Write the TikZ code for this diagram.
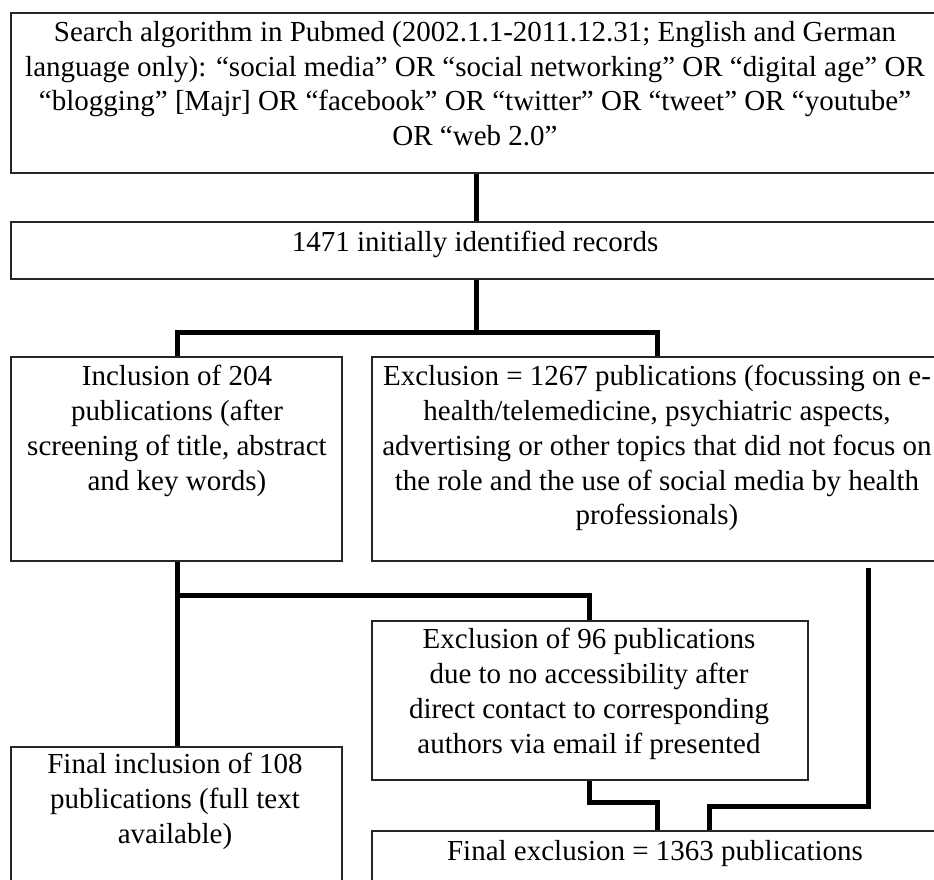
\documentclass[tikz,border=0pt]{standalone}
\usepackage{fontspec}
\setmainfont{Liberation Serif}
\begin{document}
\begin{tikzpicture}[x=1pt,y=-1pt,
  box/.style={draw=black!85, line width=1.6pt, rectangle, inner sep=0pt},
  txt/.style={anchor=north, align=center, inner sep=0pt, font=\fontsize{29}{34.8}\selectfont},
  conn/.style={line width=5pt, line join=miter, line cap=butt}]
\useasboundingbox (0,0) rectangle (934,880);
\clip (0,0) rectangle (934,880);
\fill[white] (0,0) rectangle (934,880);
% boxes
\node[box, minimum width=934pt, minimum height=160pt] (b1) at (478,93) {};
\node[box, minimum width=934pt, minimum height=57pt] (b2) at (478,250.5) {};
\node[box, minimum width=331pt, minimum height=204pt] (b3) at (176.5,459) {};
\node[box, minimum width=573pt, minimum height=204pt] (b4) at (658.5,459) {};
\node[box, minimum width=436pt, minimum height=159pt] (b5) at (590,700.5) {};
\node[box, minimum width=331pt, minimum height=153pt] (b6) at (176.5,823.5) {};
\node[box, minimum width=573pt, minimum height=69pt] (b7) at (658.5,865.5) {};
% texts
\node[txt] (t1) at (475,21) {Search algorithm in Pubmed (2002.1.1-2011.12.31; English and German\\
language only): “social media” OR “social networking” OR “digital age” OR\\
“blogging” [Majr] OR “facebook” OR “twitter” OR “tweet” OR “youtube”\\
OR “web 2.0”};
\node[txt] (t2) at (475,231) {1471 initially identified records};
\node[txt] (t3) at (177,365) {Inclusion of 204\\ publications (after\\ screening of title, abstract\\ and key words)};
\node[txt] (t4) at (657,365) {Exclusion = 1267 publications (focussing on e-\\ health/telemedicine, psychiatric aspects,\\ advertising or other topics that did not focus on\\ the role and the use of social media by health\\ professionals)};
\node[txt] (t5) at (589,628) {Exclusion of 96 publications\\ due to no accessibility after\\ direct contact to corresponding\\ authors via email if presented};
\node[txt] (t6) at (175,753) {Final inclusion of 108\\ publications (full text\\ available)};
\node[txt] (t7) at (655,840) {Final exclusion = 1363 publications};
% column coordinates
\coordinate (xl) at (177,0);
\coordinate (xm) at (476,0);
\coordinate (xr) at (657,0);
\coordinate (x5) at (589,0);
\coordinate (x7a) at (657,0);
\coordinate (x7b) at (709,0);
\coordinate (bar1) at (476,332);
\coordinate (bar2) at (177,595);
\coordinate (bar3) at (589,802);
\coordinate (bar4) at (868,806);
\coordinate (rtop) at (868,568);
% connectors
\draw[conn] (b1.south -| xm) -- (b2.north -| xm);
\draw[conn] (b2.south -| xm) -- (bar1);
\draw[conn] (b3.north -| xl) -- (xl |- bar1) -- (xr |- bar1) -- (b4.north -| xr);
\draw[conn] (b3.south -| xl) -- (b6.north -| xl);
\draw[conn] (bar2) -- (x5 |- bar2) -- (b5.north -| x5);
\draw[conn] (b5.south -| x5) -- (bar3) -- (x7a |- bar3) -- (b7.north -| x7a);
\draw[conn] (rtop) -- (bar4) -- (x7b |- bar4) -- (b7.north -| x7b);
\end{tikzpicture}
\end{document}
